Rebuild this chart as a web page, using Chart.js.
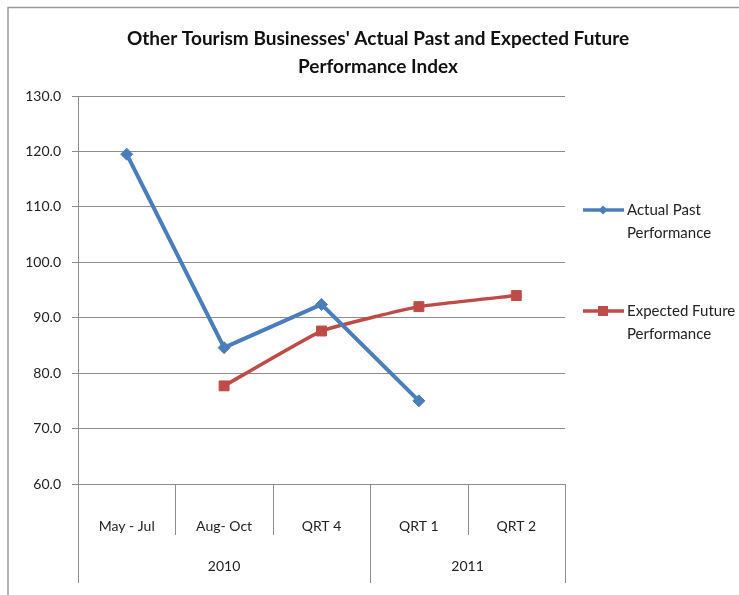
<!DOCTYPE html>
<html>
<head>
<meta charset="utf-8">
<script src="https://cdn.jsdelivr.net/npm/chart.js@4/dist/chart.umd.min.js"></script>
<style>
  html, body { margin: 0; padding: 0; background: #ffffff; }
  #wrap { position: relative; width: 739px; height: 595px; }
</style>
</head>
<body>
<div id="wrap"><canvas id="chart" width="739" height="595"></canvas></div>
<script>
// Chart data
const categories = ['May - Jul', 'Aug- Oct', 'QRT 4', 'QRT 1', 'QRT 2'];
const yearLabels = ['2010', '2011'];
const yearSpans = [3, 2];
const actualPast = [119.5, 84.6, 92.4, 75.0, null];
const expectedFuture = [null, 77.7, 87.6, 92.0, 94.0];
const titleLines = ["Other Tourism Businesses' Actual Past and Expected Future", 'Performance Index'];
const seriesNames = [['Actual Past', 'Performance'], ['Expected Future', 'Performance']];
const yMin = 60, yMax = 130, yStep = 10;

const FONT = 'Lato, "Open Sans", sans-serif';
const BLUE = '#4a7ebb';
const RED = '#be4b48';
const AXIS = '#8c8c8c';

// Title, frame, two-level category axis and side legend
const decorations = {
  id: 'decorations',
  beforeDraw(chart) {
    const ctx = chart.ctx;
    ctx.save();
    ctx.fillStyle = '#ffffff';
    ctx.fillRect(0, 0, chart.width, chart.height);
    ctx.strokeStyle = '#9a9a9a';
    ctx.lineWidth = 1.5;
    ctx.strokeRect(8, 7.5, chart.width + 10, chart.height + 10);
    ctx.restore();
  },
  afterDraw(chart) {
    const ctx = chart.ctx;
    const area = chart.chartArea;
    const x = chart.scales.x;
    ctx.save();

    // title
    ctx.fillStyle = '#111111';
    ctx.font = 'bold 19px ' + FONT;
    ctx.textAlign = 'center';
    ctx.textBaseline = 'middle';
    ctx.fillText(titleLines[0], 378, 39);
    ctx.fillText(titleLines[1], 378, 67);

    // category dividers and year groups
    const step = x.getPixelForValue(1) - x.getPixelForValue(0);
    const edge = i => x.getPixelForValue(i) - step / 2;
    ctx.strokeStyle = AXIS;
    ctx.lineWidth = 1;
    const groupEdges = [0];
    yearSpans.reduce((acc, s) => { groupEdges.push(acc + s); return acc + s; }, 0);
    for (let i = 0; i <= categories.length; i++) {
      const px = Math.round(edge(i)) + 0.5;
      const long = groupEdges.includes(i);
      ctx.beginPath();
      ctx.moveTo(px, area.bottom);
      ctx.lineTo(px, long ? area.bottom + 99 : area.bottom + 51);
      ctx.stroke();
    }
    ctx.fillStyle = '#222222';
    ctx.font = '14px ' + FONT;
    ctx.textAlign = 'center';
    ctx.textBaseline = 'middle';
    yearLabels.forEach((lab, g) => {
      const cx = (edge(groupEdges[g]) + edge(groupEdges[g + 1])) / 2;
      ctx.fillText(lab, cx, area.bottom + 82);
    });

    // legend
    const entries = chart.data.datasets;
    const rows = [210, 311];
    entries.forEach((ds, i) => {
      const y = rows[i];
      ctx.strokeStyle = ds.borderColor;
      ctx.lineWidth = 3.5;
      ctx.beginPath();
      ctx.moveTo(583, y);
      ctx.lineTo(624, y);
      ctx.stroke();
      ctx.fillStyle = ds.pointBackgroundColor;
      if (ds.pointStyle === 'rect') {
        ctx.fillRect(598, y - 5, 10, 10);
      } else {
        ctx.beginPath();
        ctx.moveTo(603, y - 4.5);
        ctx.lineTo(607.5, y);
        ctx.lineTo(603, y + 4.5);
        ctx.lineTo(598.5, y);
        ctx.closePath();
        ctx.fill();
      }
      ctx.fillStyle = '#222222';
      ctx.font = '15px ' + FONT;
      ctx.textAlign = 'left';
      ctx.textBaseline = 'middle';
      seriesNames[i].forEach((t, k) => ctx.fillText(t, 627, y + k * 23));
    });
    ctx.restore();
  }
};

new Chart(document.getElementById('chart'), {
  type: 'line',
  data: {
    labels: categories,
    datasets: [
      {
        label: seriesNames[0].join(' '),
        data: actualPast,
        borderColor: BLUE,
        backgroundColor: BLUE,
        pointBackgroundColor: BLUE,
        pointBorderColor: BLUE,
        borderWidth: 4,
        pointStyle: 'rectRot',
        pointRadius: 6,
        pointBorderWidth: 1,
        tension: 0,
        spanGaps: false
      },
      {
        label: seriesNames[1].join(' '),
        data: expectedFuture,
        borderColor: RED,
        backgroundColor: RED,
        pointBackgroundColor: RED,
        pointBorderColor: RED,
        borderWidth: 3.5,
        pointStyle: 'rect',
        pointRadius: 7,
        pointBorderWidth: 1,
        tension: 0.12,
        spanGaps: false
      }
    ]
  },
  options: {
    responsive: false,
    animation: false,
    layout: { padding: { top: 96, right: 174, bottom: 0, left: 0 } },
    plugins: {
      legend: { display: false },
      title: { display: false },
      tooltip: { enabled: false }
    },
    scales: {
      x: {
        type: 'category',
        offset: true,
        grid: { display: false },
        border: { display: true, color: AXIS, width: 1 },
        ticks: {
          padding: 26,
          maxRotation: 0,
          color: '#222222',
          font: { family: FONT, size: 14 }
        },
        afterFit(scale) { scale.height = 111; }
      },
      y: {
        min: yMin,
        max: yMax,
        grid: { color: AXIS, lineWidth: 1, tickLength: 6, drawTicks: true },
        border: { display: true, color: AXIS, width: 1 },
        ticks: {
          stepSize: yStep,
          padding: 11,
          color: '#222222',
          font: { family: FONT, size: 14 },
          callback: v => Number(v).toFixed(1)
        },
        afterFit(scale) { scale.width = 78; }
      }
    }
  },
  plugins: [decorations]
});
</script>
</body>
</html>
